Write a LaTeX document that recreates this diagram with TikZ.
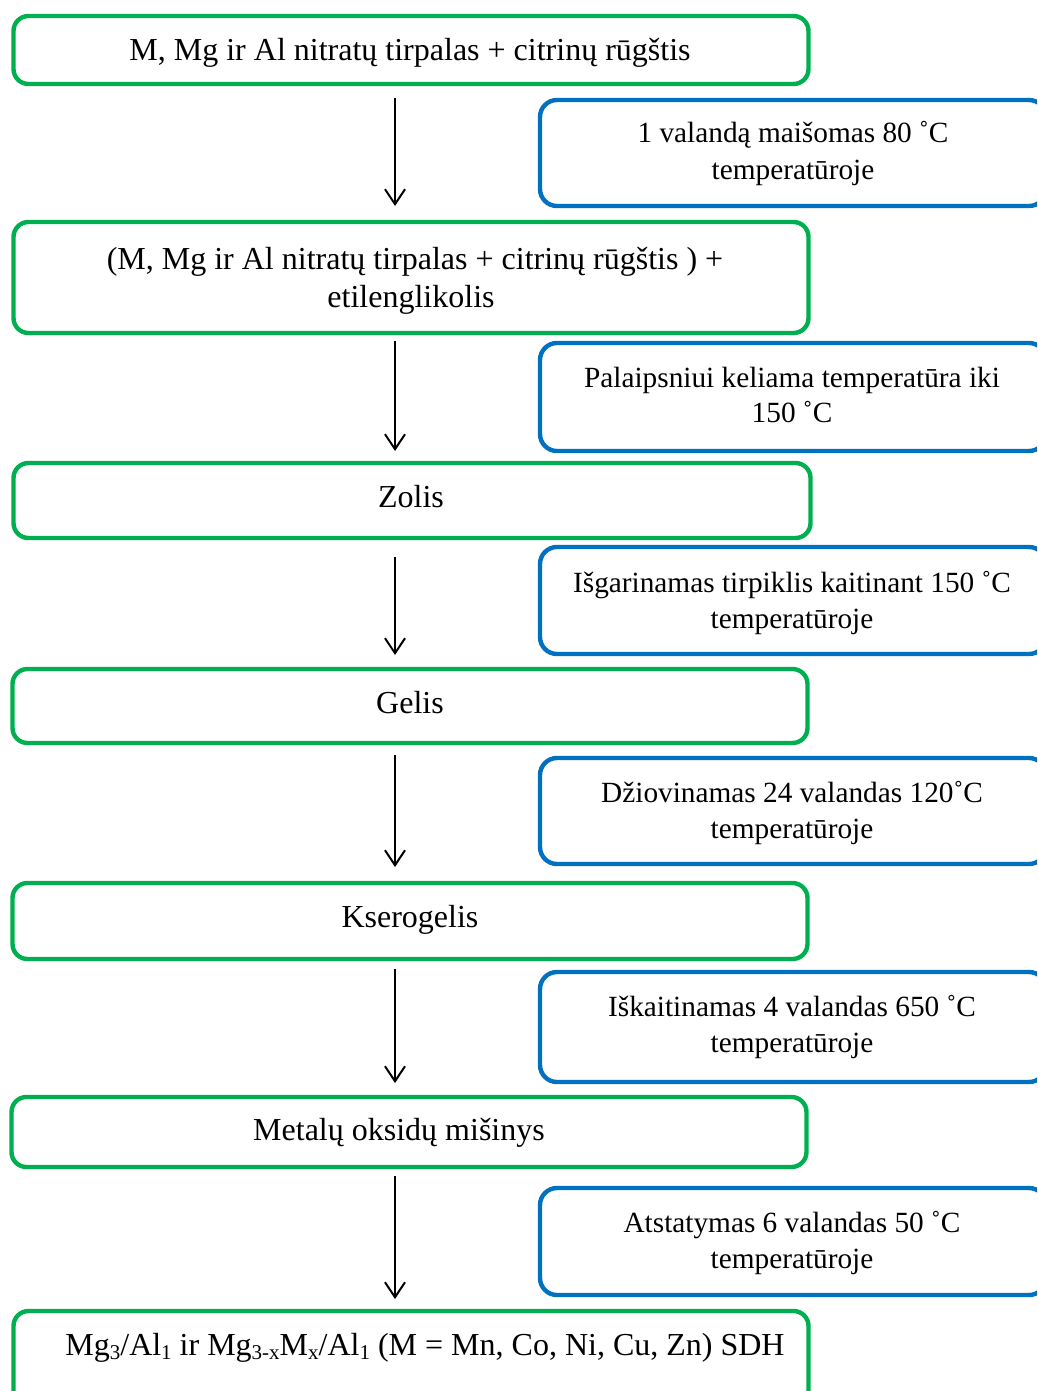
\documentclass[tikz,border=0pt]{standalone}
\usepackage{fontspec}
\setmainfont{Liberation Serif}
\usetikzlibrary{arrows.meta,calc}
\definecolor{gr}{HTML}{00B050}
\definecolor{bl}{HTML}{0070C0}
\newcommand{\gsz}{\fontsize{32}{36}\selectfont}
\newcommand{\bsz}{\fontsize{29.3}{35}\selectfont}
\newcommand{\lo}[1]{\raisebox{-0.14em}{\fontsize{21}{21}\selectfont #1}}
\begin{document}
\begin{tikzpicture}[x=1pt,y=-1pt,
  gbox/.style={draw=gr, line width=4.4pt, rounded corners=15pt, inner sep=0pt, outer sep=0pt, minimum width=795pt},
  bbox/.style={draw=bl, line width=4.4pt, rounded corners=17pt, inner sep=0pt, outer sep=0pt, minimum width=506pt},
  gtxt/.style={anchor=base, inner sep=0pt, font=\gsz},
  btxt/.style={anchor=base, inner sep=0pt, font=\bsz},
  arr/.style={-{Straight Barb[length=15pt,width=20pt]}, line width=2pt, black}]
\useasboundingbox (0,0) rectangle (1037,1391);
\clip (0,0) rectangle (1037,1391);
\fill[white] (0,0) rectangle (1037,1391);

% green process boxes
\node[gbox, minimum height=68pt]  (g1) at (411,50) {};
\node[gbox, minimum height=111pt] (g2) at (411,277.5) {};
\node[gbox, minimum height=75pt, minimum width=797pt] (g3) at (412,500.5) {};
\node[gbox, minimum height=74pt]  (g4) at (410,706) {};
\node[gbox, minimum height=76pt]  (g5) at (410,921) {};
\node[gbox, minimum height=70pt]  (g6) at (409,1132) {};
\node[gbox, minimum height=110pt] (g7) at (411,1366) {};

% blue condition boxes
\node[bbox, minimum height=106pt] (b1) at (793,153) {};
\node[bbox, minimum height=108pt] (b2) at (793,397) {};
\node[bbox, minimum height=107pt] (b3) at (793,600.5) {};
\node[bbox, minimum height=106pt] (b4) at (793,811) {};
\node[bbox, minimum height=110pt] (b5) at (793,1027) {};
\node[bbox, minimum height=107pt] (b6) at (793,1241.5) {};

% green texts
\node[gtxt] (t1)  at (410,61)  {M, Mg ir Al nitratų tirpalas + citrinų rūgštis};
\node[gtxt] (t2a) at (415,269) {(M, Mg ir Al nitratų tirpalas + citrinų rūgštis ) +};
\node[gtxt] (t2b) at (411,307) {etilenglikolis};
\node[gtxt] (t3)  at (411,507) {Zolis};
\node[gtxt] (t4)  at (410,713) {Gelis};
\node[gtxt] (t5)  at (410,927) {Kserogelis};
\node[gtxt] (t6)  at (399,1140) {Metalų oksidų mišinys};
\node[gtxt] (t7)  at (425,1355) {Mg\lo{3}/Al\lo{1} ir Mg\lo{3-x}M\lo{x}/Al\lo{1} (M = Mn, Co, Ni, Cu, Zn) SDH};

% blue texts
\node[btxt] (u1a) at (793,143)  {1 valandą maišomas 80 ˚C};
\node[btxt] (u1b) at (793,180)  {temperatūroje};
\node[btxt] (u2a) at (792,387)  {Palaipsniui keliama temperatūra iki};
\node[btxt] (u2b) at (792,422)  {150 ˚C};
\node[btxt] (u3a) at (792,592)  {Išgarinamas tirpiklis kaitinant 150 ˚C};
\node[btxt] (u3b) at (792,628)  {temperatūroje};
\node[btxt] (u4a) at (792,802)  {Džiovinamas 24 valandas 120˚C};
\node[btxt] (u4b) at (792,838)  {temperatūroje};
\node[btxt] (u5a) at (792,1016) {Iškaitinamas 4 valandas 650 ˚C};
\node[btxt] (u5b) at (792,1052) {temperatūroje};
\node[btxt] (u6a) at (792,1232) {Atstatymas 6 valandas 50 ˚C};
\node[btxt] (u6b) at (792,1268) {temperatūroje};

% arrows
\coordinate (ax) at (395,0);
\draw[arr] ($(g1.south -| ax)+(0,14)$) -- ($(g2.north -| ax)+(0,-16)$);
\draw[arr] ($(g2.south -| ax)+(0,8)$)  -- ($(g3.north -| ax)+(0,-12)$);
\draw[arr] ($(g3.south -| ax)+(0,19)$) -- ($(g4.north -| ax)+(0,-14)$);
\draw[arr] ($(g4.south -| ax)+(0,12)$) -- ($(g5.north -| ax)+(0,-16)$);
\draw[arr] ($(g5.south -| ax)+(0,10)$) -- ($(g6.north -| ax)+(0,-14)$);
\draw[arr] ($(g6.south -| ax)+(0,9)$)  -- ($(g7.north -| ax)+(0,-12)$);
\end{tikzpicture}
\end{document}
